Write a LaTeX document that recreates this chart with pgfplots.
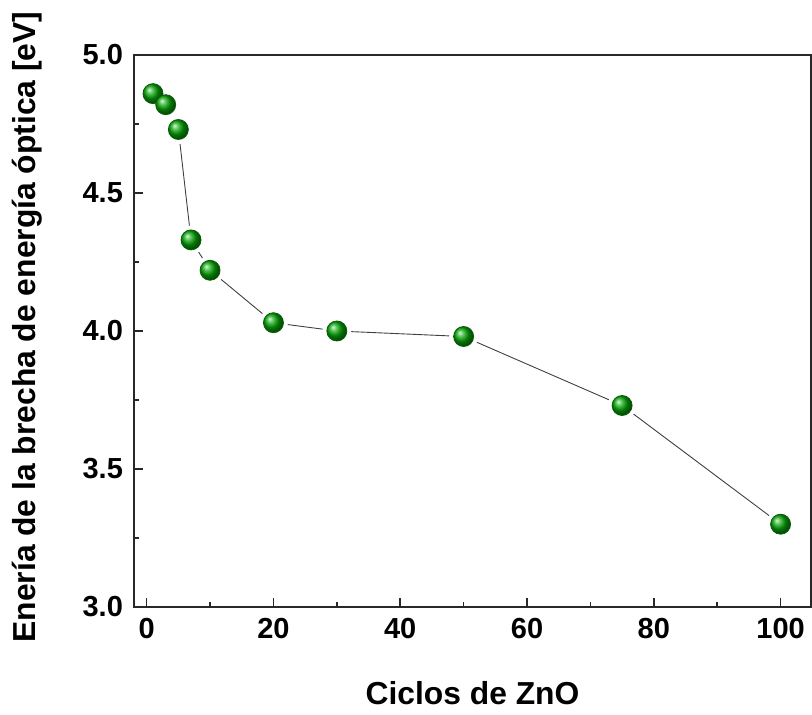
\documentclass[border=0pt]{standalone}
\usepackage{fontspec}
\setmainfont{Liberation Sans}
\usepackage{pgfplots}
\pgfplotsset{compat=1.18}
\definecolor{ballgreen}{RGB}{10,170,10}
\definecolor{axisgray}{RGB}{40,40,40}
\begin{document}
\begin{tikzpicture}
\useasboundingbox (-67pt,-54pt) rectangle (339pt,303.5pt);
\begin{axis}[
  at={(0,0)}, anchor=south west,
  scale only axis,
  width=338.5pt, height=276pt,
  xmin=-2, xmax=104.8,
  ymin=3.0, ymax=5.0,
  xtick={0,20,40,60,80,100},
  ytick={3.0,3.5,4.0,4.5,5.0},
  minor x tick num=1,
  minor y tick num=1,
  tick pos=left,
  tick align=inside,
  major tick length=4.5pt,
  minor tick length=2.5pt,
  every tick/.style={axisgray, line width=0.8pt},
  axis line style={axisgray, line width=1.1pt},
  /pgf/number format/assume math mode=true,
  /pgf/number format/fixed,
  /pgf/number format/fixed zerofill,
  yticklabel style={/pgf/number format/precision=1, font=\bfseries\fontsize{14.5}{16}\selectfont, xshift=-2pt},
  xticklabel style={/pgf/number format/precision=0, /pgf/number format/fixed zerofill=false, font=\bfseries\fontsize{14.5}{16}\selectfont, yshift=-2pt},
  xlabel={Ciclos de ZnO},
  ylabel={Enería de la brecha de energía óptica [eV]},
  label style={font=\bfseries\fontsize{15.9}{17}\selectfont},
  xlabel style={at={(axis description cs:0.5,0)}, anchor=center, yshift=-43pt},
  ylabel style={at={(axis description cs:0,0.5)}, anchor=center, rotate=0, xshift=2pt, yshift=53.5pt},
]
\pgfplotstableread{
x y
1 4.86
3 4.82
5 4.73
7 4.33
10 4.22
20 4.03
30 4.00
50 3.98
75 3.73
100 3.30
}\datatable
\addplot[color=black!75, line width=0.45pt, mark=none] table[x=x,y=y] {\datatable};
\addplot[color=white, only marks, mark=*, mark size=7pt, mark options={fill=white, draw=white}] table[x=x,y=y] {\datatable};
\addplot[color=ballgreen!55!black, only marks, mark=ball, mark size=5pt, mark options={ball color=ballgreen}] table[x=x,y=y] {\datatable};
\end{axis}
\end{tikzpicture}
\end{document}
